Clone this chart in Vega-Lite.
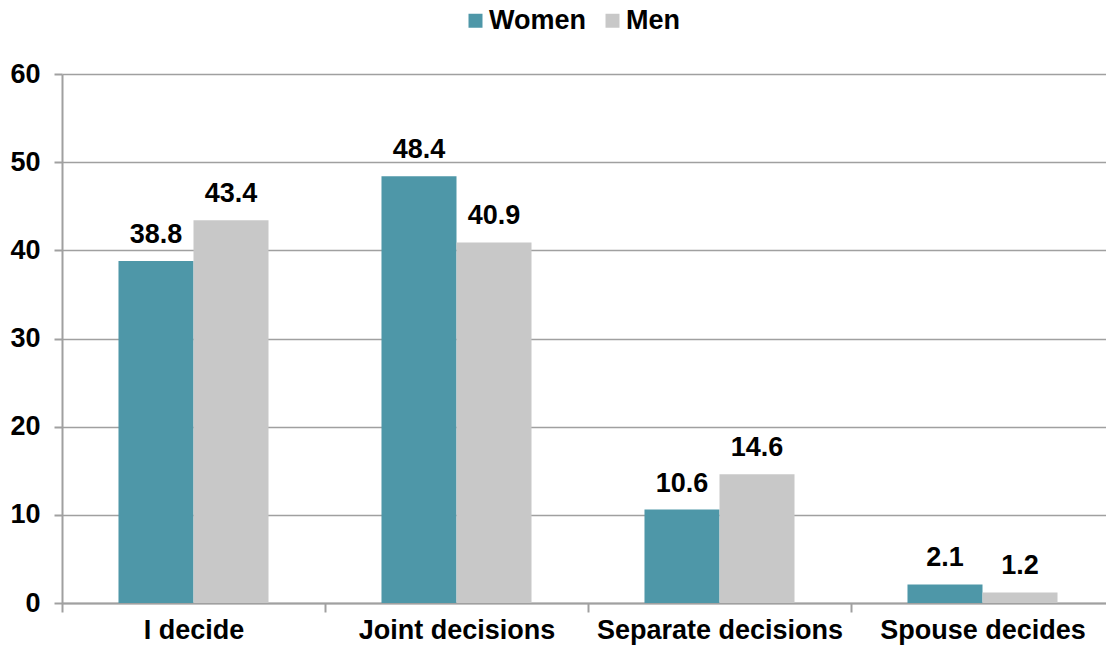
{
  "$schema": "https://vega.github.io/schema/vega-lite/v6.json",
  "autosize": {"type": "none"},
  "padding": {"left": 62, "top": 74, "right": 0, "bottom": 48},
  "width": 1044,
  "height": 529,
  "background": "white",
  "config": {
    "font": "Liberation Sans",
    "view": {"stroke": null}
  },
  "data": {
    "values": [
      {"category": "I decide", "sex": "Women", "value": 38.8},
      {"category": "I decide", "sex": "Men", "value": 43.4},
      {"category": "Joint decisions", "sex": "Women", "value": 48.4},
      {"category": "Joint decisions", "sex": "Men", "value": 40.9},
      {"category": "Separate decisions", "sex": "Women", "value": 10.6},
      {"category": "Separate decisions", "sex": "Men", "value": 14.6},
      {"category": "Spouse decides", "sex": "Women", "value": 2.1},
      {"category": "Spouse decides", "sex": "Men", "value": 1.2}
    ]
  },
  "encoding": {
    "x": {
      "field": "category",
      "type": "nominal",
      "sort": null,
      "scale": {"paddingInner": 0, "paddingOuter": 0, "range": [0, 1052]},
      "axis": {
        "title": null,
        "labelAngle": 0,
        "labelFont": "Liberation Sans",
        "labelFontWeight": "bold",
        "labelFontSize": 27,
        "labelLimit": 400,
        "labelColor": "black",
        "labelPadding": 5,
        "tickBand": "extent",
        "tickSize": 9,
        "tickColor": "#A0A0A0",
        "tickWidth": 2,
        "domainColor": "#A0A0A0",
        "domainWidth": 2,
        "grid": false
      }
    },
    "xOffset": {
      "field": "sex",
      "type": "nominal",
      "sort": ["Women", "Men"],
      "scale": {"paddingInner": 0, "paddingOuter": 0.753}
    },
    "y": {
      "field": "value",
      "type": "quantitative",
      "scale": {"domain": [0, 60]},
      "axis": {
        "title": null,
        "values": [0, 10, 20, 30, 40, 50, 60],
        "labelFont": "Liberation Sans",
        "labelFontWeight": "bold",
        "labelFontSize": 27,
        "labelColor": "black",
        "labelPadding": 14,
        "tickSize": 8,
        "tickColor": "#A0A0A0",
        "tickWidth": 2,
        "domainColor": "#A0A0A0",
        "domainWidth": 2,
        "gridColor": "#A0A0A0",
        "gridWidth": 1.5
      }
    }
  },
  "layer": [
    {
      "mark": {"type": "bar"},
      "encoding": {
        "color": {
          "field": "sex",
          "type": "nominal",
          "sort": ["Women", "Men"],
          "scale": {"domain": ["Women", "Men"], "range": ["#4E97A8", "#C8C8C8"]},
          "legend": {
            "title": null,
            "orient": "none",
            "direction": "horizontal",
            "legendX": 400,
            "legendY": -67,
            "symbolType": "square",
            "symbolSize": 196,
            "symbolStrokeWidth": 0,
            "labelFont": "Liberation Sans",
            "labelFontWeight": "bold",
            "labelFontSize": 27,
            "labelColor": "black",
            "labelOffset": 0,
            "labelLimit": 300,
            "columnPadding": 12
          }
        }
      }
    },
    {
      "mark": {"type": "text", "dy": -26, "font": "Liberation Sans", "fontWeight": "bold", "fontSize": 27, "color": "black"},
      "encoding": {
        "text": {"field": "value", "type": "quantitative", "format": ".1f"}
      }
    }
  ]
}
